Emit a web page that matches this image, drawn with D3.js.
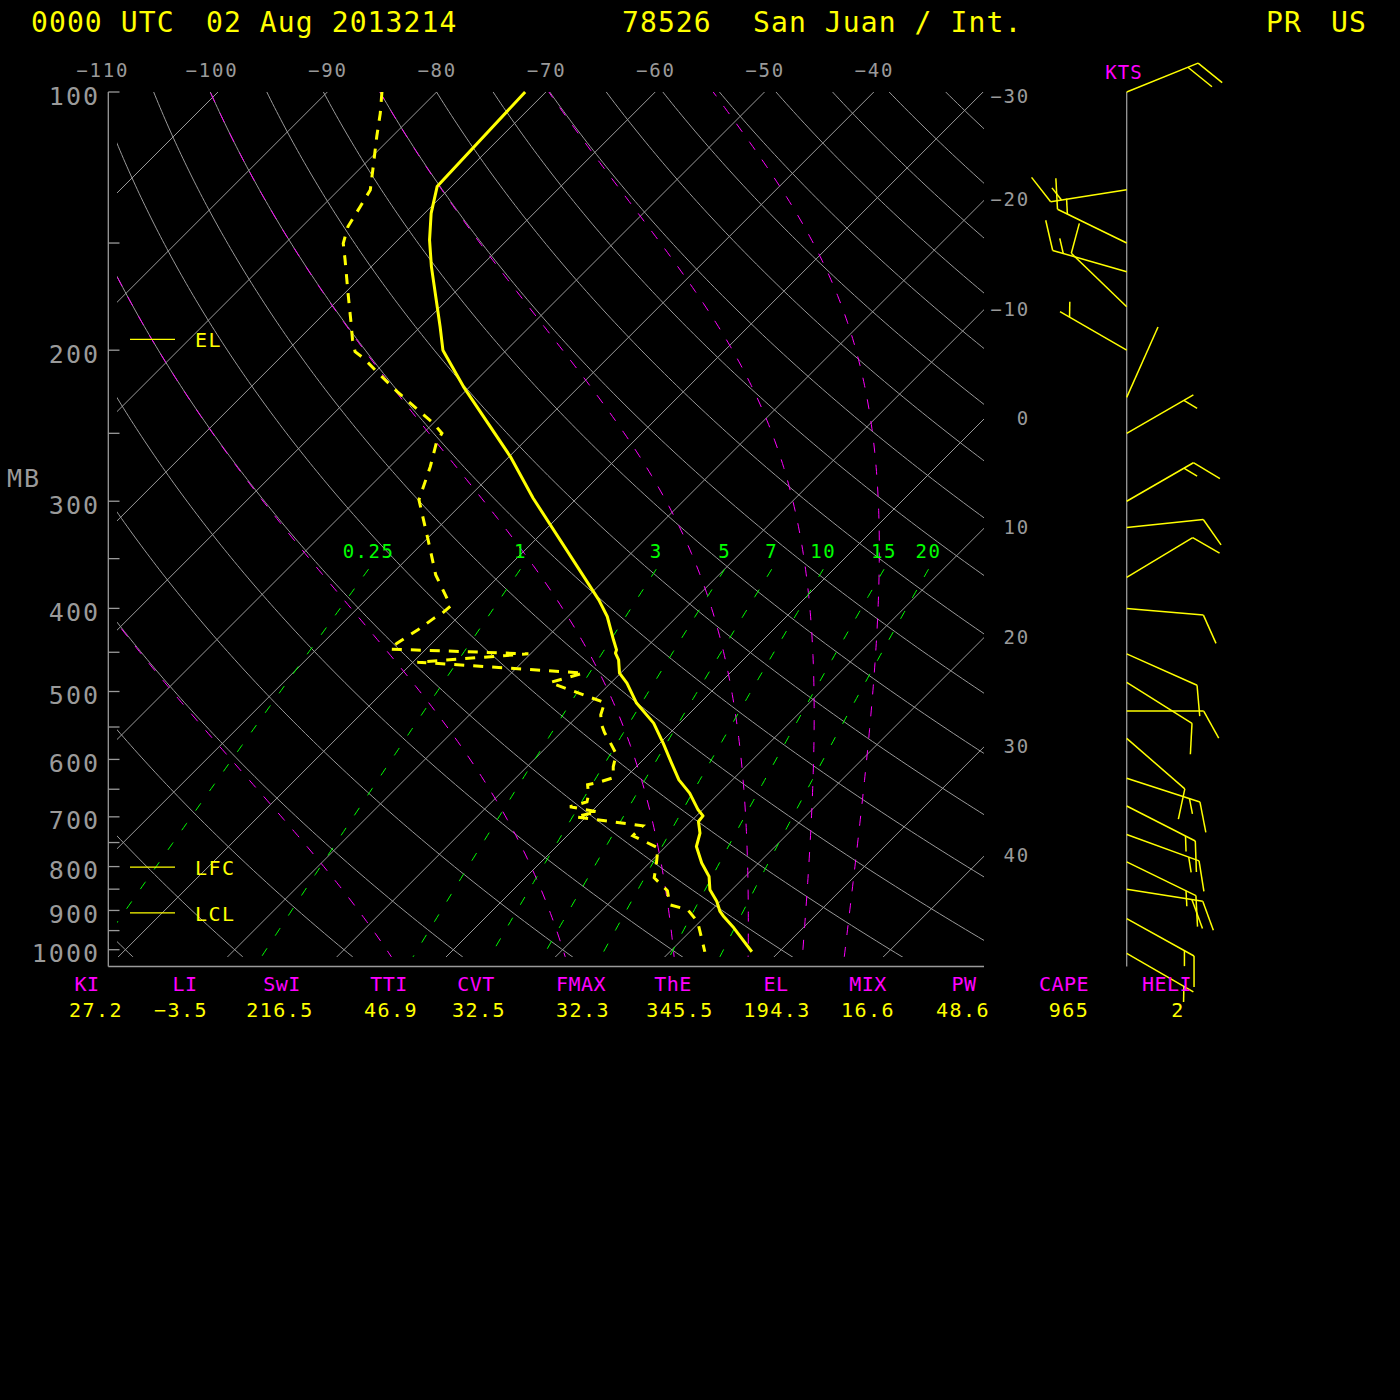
<!DOCTYPE html>
<html><head><meta charset="utf-8">
<script src="https://cdn.jsdelivr.net/npm/d3@7"></script>
<style>
html,body{margin:0;padding:0;background:#000;}
svg{display:block;}
text{font-family:"DejaVu Sans Mono","Liberation Mono",monospace;}
</style>
</head><body>
<svg id="chart" width="1400" height="1400"></svg>
<script>
// ---------------- DATA ----------------
const tempPres = [100, 128.9, 138.5, 148.8, 159.8, 174.8, 187.8, 200, 220.5, 266.1, 297.6, 390.9, 408.8, 435.2, 447.1, 451.0, 459.2, 475.9, 488.9, 515.8, 544.3, 574.3, 606.0, 633.8, 656.8, 686.9, 698.1, 708.8, 731.2, 758.0, 792.5, 821.5, 851.5, 878.6, 902.4, 914.7, 943.6, 1005.5];
const tempVals = [-71.9, -71.3, -69.4, -67.1, -64.5, -61.0, -58.2, -55.8, -50.6, -39.9, -34.0, -18.7, -16.4, -13.7, -12.5, -12.3, -11.4, -10.1, -8.5, -5.8, -2.4, 0.3, 2.9, 5.1, 7.3, 9.6, 10.6, 10.7, 11.9, 12.8, 14.8, 16.7, 18.0, 19.7, 20.9, 21.7, 23.7, 27.5];

const dewPres = [100, 105.9, 112.7, 123.3, 130.1, 136.0, 143.5, 150.1, 157.0, 171.6, 184.4, 194.6, 200.8, 204.4, 210.9, 223.5, 235.8, 243.3, 249.9, 256.7, 273.4, 292.3, 298.9, 332.8, 365.6, 397.3, 405.2, 410.6, 423.7, 439.1, 446.2, 451.9, 462.1, 475.9, 488.1, 515.4, 521.0, 532.3, 546.8, 558.6, 572.3, 587.9, 595.8, 612.0, 630.3, 638.8, 642.3, 659.8, 672.3, 681.4, 690.6, 699.9, 707.4, 717.0, 736.5, 760.6, 796.1, 824.4, 853.7, 886.4, 898.4, 927.8, 1005.5];
const dewVals = [-85.0, -83.2, -81.4, -78.7, -77.1, -76.5, -75.8, -74.7, -73.0, -69.7, -67.0, -65.0, -63.7, -62.3, -60.2, -56.2, -52.3, -50.0, -48.3, -47.9, -46.3, -44.8, -44.3, -39.8, -35.9, -31.7, -31.8, -32.1, -32.5, -33.2, -33.3, -20.2, -29.6, -13.4, -15.6, -8.7, -8.5, -8.0, -7.0, -6.0, -4.7, -3.3, -2.8, -2.1, -1.1, -2.1, -2.8, -1.8, -1.3, -2.4, 0.6, -1.0, 2.1, 6.0, 6.0, 9.4, 10.8, 11.8, 14.2, 15.7, 17.8, 19.8, 23.2];

const windPres = [100, 130, 150, 162, 178, 200, 227, 250, 300, 322, 368, 400, 452, 488, 527, 567, 631, 680, 734, 790, 850, 920, 1010];
const windDir  = [68, 261, 296, 286, 314, 300, 24, 60, 60, 84, 59, 95, 114, 122, 90, 131, 108, 117, 110, 116, 99, 119, 120];
const windSpd  = [20, 15, 15, 15, 10, 5, 2, 5, 15, 10, 10, 10, 10, 10, 10, 10, 15, 15, 15, 15, 20, 15, 5];

const pressureLabels = [100, 200, 300, 400, 500, 600, 700, 800, 900, 1000];
const pressureMinor = [150, 250, 350, 450, 550, 650, 750, 850, 950];
const topTempLabels = [-110, -100, -90, -80, -70, -60, -50, -40];
const rightTempLabels = [-30, -20, -10, 0, 10, 20, 30, 40];
const isotherms = [-120, -110, -100, -90, -80, -70, -60, -50, -40, -30, -20, -10, 0, 10, 20, 30, 40, 50, 60];
const dryAdiabats = [-40, -30, -20, -10, 0, 10, 20, 30, 40, 50, 60, 70, 80, 90, 100, 110, 120, 130, 140, 150, 160, 170, 180, 190, 200];
const moistAdiabats = [0, 30, 60, 90, 120, 150];
const mixingRatios = [0.25, 1, 3, 5, 7, 10, 15, 20];
const mixingLabels = ["0.25", "1", "3", "5", "7", "10", "15", "20"];

const indexNames  = ["KI", "LI", "SwI", "TTI", "CVT", "FMAX", "ThE", "EL", "MIX", "PW", "CAPE", "HELI"];
const indexValues = ["27.2", "-3.5", "216.5", "46.9", "32.5", "32.3", "345.5", "194.3", "16.6", "48.6", "965", "2"];
const indexLabelX = [87, 185, 282, 389, 476, 581, 673, 776, 868, 964, 1064, 1167];
const indexValueX = [96, 181, 280, 391, 479, 583, 680, 777, 868, 963, 1069, 1178];

const parcelNames = ["EL", "LFC", "LCL"];
const parcelPres  = [194.3, 801, 906];

// ---------------- LAYOUT ----------------
const GREY = "#9a9a9a", YEL = "#ffff00", MAG = "#ff00ff", GRN = "#00ff00";
const yP = d3.scaleLog().domain([100, 1000]).range([92, 949.7]);
const xT = d3.scaleLinear().domain([-110, 40]).range([108.7, 108.7 + 150 * 10.93]);
const skewX = (T, p) => xT(T) - (yP(p) - 92);
const pt = (T, p) => [skewX(T, p), yP(p)];

const svg = d3.select("#chart");
svg.append("rect").attr("width", 1400).attr("height", 1400).attr("fill", "#000");
svg.append("defs").append("clipPath").attr("id", "bgclip")
  .append("rect").attr("x", 117).attr("y", 92).attr("width", 867).attr("height", 865);
const bg = svg.append("g").attr("clip-path", "url(#bgclip)");
const line = d3.line();
const samplesP = d3.range(0, 241).map(i => 90 * Math.pow(1120 / 90, i / 240));

// thermodynamics
const es = T => 6.112 * Math.exp(17.67 * T / (T + 243.5));
function thetaE(T, p) {
  const e = es(T);
  if (e >= 0.6 * p) return 1e9;
  const r = 0.622 * e / (p - e), K = T + 273.15;
  return K * Math.pow(1000 / p, 0.286) * Math.exp(2.5e6 * r / (1004 * K));
}
function moistT(thE, p) {
  let lo = -150, hi = 60;
  for (let i = 0; i < 60; i++) {
    const mid = (lo + hi) / 2;
    if (thetaE(mid, p) > thE) hi = mid; else lo = mid;
  }
  return (lo + hi) / 2;
}
function mixT(w, p) {
  const e = w * p / (622 + w);
  const L = Math.log(e / 6.112);
  return 243.5 * L / (17.67 - L);
}

// isotherms
bg.selectAll("line.iso").data(isotherms).join("line")
  .attr("x1", T => skewX(T, 90)).attr("y1", yP(90))
  .attr("x2", T => skewX(T, 1150)).attr("y2", yP(1150))
  .attr("stroke", GREY).attr("stroke-width", 1);

// dry adiabats
bg.selectAll("path.dry").data(dryAdiabats).join("path")
  .attr("d", th => line(samplesP.map(p => pt((th + 273.15) * Math.pow(p / 1000, 0.286) - 273.15, p))))
  .attr("fill", "none").attr("stroke", GREY).attr("stroke-width", 1);

// moist adiabats
bg.selectAll("path.moist").data(moistAdiabats).join("path")
  .attr("d", th => line(samplesP.map(p => pt(moistT(th + 273.15, p), p))))
  .attr("fill", "none").attr("stroke", MAG).attr("stroke-width", 1).attr("stroke-dasharray", "10,12");

// mixing ratio lines
const mixTop = 360;
const mixP = samplesP.filter(p => p >= mixTop);
bg.selectAll("path.mix").data(mixingRatios).join("path")
  .attr("d", w => line([mixTop].concat(mixP).map(p => pt(mixT(w, p), p))))
  .attr("fill", "none").attr("stroke", GRN).attr("stroke-width", 1).attr("stroke-dasharray", "9,15");
svg.selectAll("text.mixlab").data(mixingRatios).join("text")
  .attr("x", w => skewX(mixT(w, mixTop), mixTop)).attr("y", 558)
  .attr("text-anchor", "middle").attr("fill", GRN).attr("font-size", 19).attr("letter-spacing", 1.5)
  .text((w, i) => mixingLabels[i]);

// axes
svg.append("line").attr("x1", 108.3).attr("y1", 92).attr("x2", 108.3).attr("y2", 966.5).attr("stroke", GREY).attr("stroke-width", 1.3);
svg.append("line").attr("x1", 108.3).attr("y1", 966.5).attr("x2", 984).attr("y2", 966.5).attr("stroke", GREY).attr("stroke-width", 1.3);
svg.selectAll("line.tick").data(pressureLabels.concat(pressureMinor)).join("line")
  .attr("x1", 108.3).attr("x2", 119.5).attr("y1", p => yP(p)).attr("y2", p => yP(p))
  .attr("stroke", GREY).attr("stroke-width", 1.3);
svg.selectAll("text.plab").data(pressureLabels).join("text")
  .attr("x", 100).attr("y", p => yP(p) + 12.5).attr("text-anchor", "end")
  .attr("fill", GREY).attr("font-size", 25).attr("letter-spacing", 2).text(p => p);
svg.append("text").attr("x", 7).attr("y", 487).attr("fill", GREY).attr("font-size", 25).attr("letter-spacing", 2).text("MB");

svg.selectAll("text.toplab").data(topTempLabels).join("text")
  .attr("x", T => xT(T) + 20.5).attr("y", 77).attr("text-anchor", "end")
  .attr("fill", GREY).attr("font-size", 19).attr("letter-spacing", 1.8).text(T => String(T).replace("-", "\u2212"));
svg.selectAll("text.rlab").data(rightTempLabels).join("text")
  .attr("x", 1030).attr("y", T => Math.max(96, 92 + xT(T) - 985) + 7).attr("text-anchor", "end")
  .attr("fill", GREY).attr("font-size", 19).attr("letter-spacing", 1.8).text(T => String(T).replace("-", "\u2212"));

// profiles
svg.append("path")
  .attr("d", line(tempPres.map((p, i) => pt(tempVals[i], p))))
  .attr("fill", "none").attr("stroke", YEL).attr("stroke-width", 3).attr("stroke-linejoin", "round");
svg.append("path")
  .attr("d", line(dewPres.map((p, i) => pt(dewVals[i], p))))
  .attr("fill", "none").attr("stroke", YEL).attr("stroke-width", 3).attr("stroke-dasharray", "10,9");

// parcel levels legend
parcelNames.forEach((n, i) => {
  const y = yP(parcelPres[i]);
  svg.append("line").attr("x1", 130).attr("x2", 175).attr("y1", y).attr("y2", y).attr("stroke", YEL).attr("stroke-width", 1.3);
  svg.append("text").attr("x", 195).attr("y", y + 8).attr("fill", YEL).attr("font-size", 20).attr("letter-spacing", 1.5).text(n);
});

// wind barbs
const WX = 1126.7;
svg.append("line").attr("x1", WX).attr("x2", WX).attr("y1", 92).attr("y2", 966.5).attr("stroke", GREY).attr("stroke-width", 1.3);
svg.append("text").attr("x", 1124).attr("y", 79).attr("text-anchor", "middle").attr("fill", MAG).attr("font-size", 19).attr("letter-spacing", 1).text("KTS");
const barbs = svg.append("g").attr("stroke", YEL).attr("stroke-width", 1.5).attr("fill", "none");
const ca = Math.cos(61 * Math.PI / 180), sa = Math.sin(61 * Math.PI / 180);
windPres.forEach((p, i) => {
  const d = windDir[i] * Math.PI / 180, s = windSpd[i];
  const bx = WX, by = yP(p);
  const u = [Math.sin(d), -Math.cos(d)];
  const v = [u[0] * ca - u[1] * sa, u[0] * sa + u[1] * ca];
  const tip = [bx + 77 * u[0], by + 77 * u[1]];
  barbs.append("line").attr("x1", bx).attr("y1", by).attr("x2", tip[0]).attr("y2", tip[1]);
  const r = Math.round(s / 5) * 5;
  const n10 = Math.floor(r / 10), n5 = (r % 10) >= 5 ? 1 : 0;
  let k = 0;
  for (let j = 0; j < n10; j++, k++) {
    const P = [tip[0] - k * 11 * u[0], tip[1] - k * 11 * u[1]];
    barbs.append("line").attr("x1", P[0]).attr("y1", P[1]).attr("x2", P[0] + 31 * v[0]).attr("y2", P[1] + 31 * v[1]);
  }
  if (n5) {
    if (k === 0) k = 1;
    const P = [tip[0] - k * 11 * u[0], tip[1] - k * 11 * u[1]];
    barbs.append("line").attr("x1", P[0]).attr("y1", P[1]).attr("x2", P[0] + 15.5 * v[0]).attr("y2", P[1] + 15.5 * v[1]);
  }
});

// header
const hdr = svg.append("g").attr("fill", YEL).attr("font-size", 28).attr("letter-spacing", 1.1);
hdr.append("text").attr("x", 31).attr("y", 32).text("0000 UTC");
hdr.append("text").attr("x", 206).attr("y", 32).text("02 Aug 2013214");
hdr.append("text").attr("x", 622).attr("y", 32).text("78526");
hdr.append("text").attr("x", 753).attr("y", 32).text("San Juan / Int.");
hdr.append("text").attr("x", 1266).attr("y", 32).text("PR");
hdr.append("text").attr("x", 1331).attr("y", 32).text("US");

// indices
svg.selectAll("text.iname").data(indexNames).join("text")
  .attr("x", (d, i) => indexLabelX[i]).attr("y", 991).attr("text-anchor", "middle")
  .attr("fill", MAG).attr("font-size", 20).attr("letter-spacing", 0.5).text(d => d);
svg.selectAll("text.ival").data(indexValues).join("text")
  .attr("x", (d, i) => indexValueX[i]).attr("y", 1017).attr("text-anchor", "middle")
  .attr("fill", YEL).attr("font-size", 20).attr("letter-spacing", 1.5).text(d => d.replace("-", "\u2212"));
</script>
</body></html>
